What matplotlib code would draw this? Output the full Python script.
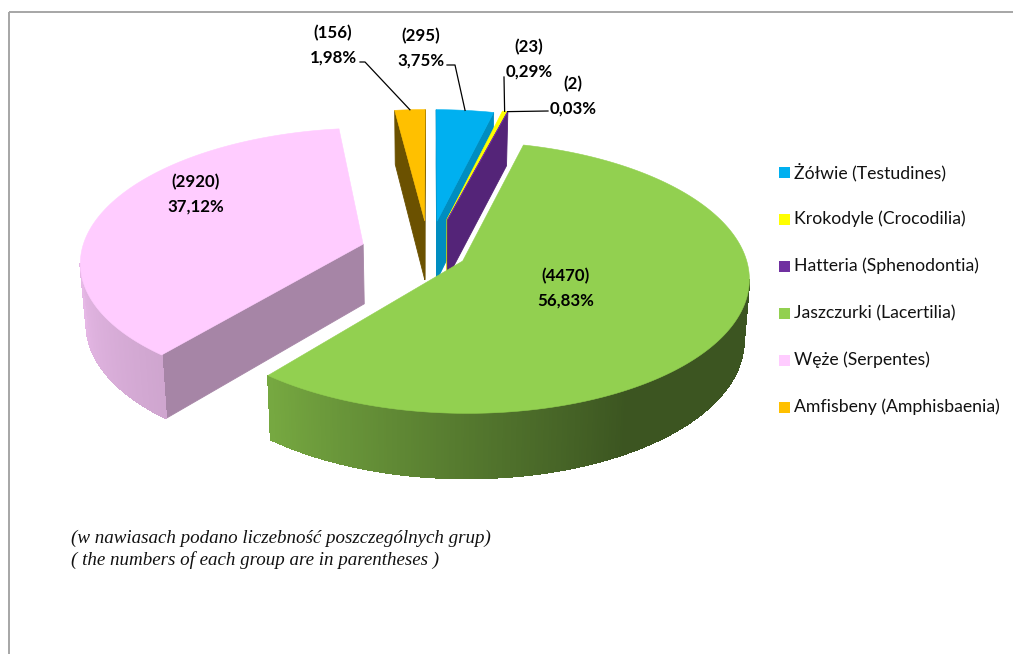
import numpy as np
import matplotlib
matplotlib.use("Agg")
import matplotlib.pyplot as plt
from matplotlib.patches import Rectangle

# Dane: liczebnosc grup
names = ['Żółwie (Testudines)', 'Krokodyle (Crocodilia)', 'Hatteria (Sphenodontia)',
         'Jaszczurki (Lacertilia)', 'Węże (Serpentes)', 'Amfisbeny (Amphisbaenia)']
counts = [295, 23, 2, 4470, 2920, 156]

colors = ['#00B0F0', '#FFFF00', '#7030A0', '#92D050', '#FFCCFF', '#FFC000']
face_shade = [0.80, 0.85, 0.75, 0.8, 0.65, 0.42]   # sciany promieniowe
explode = [0.25, 0.27, 0.27, 0.133, 0.245, 0.25]
draw_order = [5, 0, 1, 2, 4, 3]

# polozenie etykiet (piksele)
label_xy = [(421, 48), (529, 59), (573, 96), (566, 288), (196, 194), (333, 45)]
leader_elbows = [[(447, 65), (455, 65)], [(504, 77)], [(548, 111)], None, None, [(360, 62), (365, 62)]]

# parametry rzutu
X0, Y0 = 429, 253
RX, RY = 282, 132
P = 0.12
DEPTH = 60


def project(u, v, bottom=False):
    s = 1 / (1 - P * v)
    x = X0 + RX * u * s
    y = Y0 + RY * v * s
    if bottom:
        x = X0 + (x - X0) * 0.983
        y = y + DEPTH * (1 + 0.08 * v)
    return x, y


def disk_point(theta, r, mid, e):
    t, m = np.radians(theta), np.radians(mid)
    return r * np.sin(t) + e * np.sin(m), -r * np.cos(t) - e * np.cos(m)


def rim_shade(theta):
    return np.interp(theta, [90, 150, 180, 219, 270], [0.41, 0.41, 0.58, 0.81, 0.92])


def darker(color, f):
    return tuple(c * f for c in matplotlib.colors.to_rgb(color))


def side_quad(ax, a, b, color, aa=True):
    # sciana widoczna tylko gdy krawedz biegnie w lewo
    xa, ya = project(*a)
    xb, yb = project(*b)
    if xb >= xa:
        return
    xc, yc = project(*b, bottom=True)
    xd, yd = project(*a, bottom=True)
    ax.fill([xa, xb, xc, xd], [ya, yb, yc, yd], color=color, lw=0.6, antialiased=aa, zorder=2)


fig = plt.figure(figsize=(10.13, 6.54), dpi=100)
ax = fig.add_axes([0, 0, 1, 1])
ax.set_xlim(0, 1013)
ax.set_ylim(654, 0)
ax.axis('off')

# ramka
ax.add_patch(Rectangle((9, 12), 1100, 800, fill=False, edgecolor='#A6A6A6', lw=1.4, zorder=1))

total = sum(counts)
edges = np.cumsum([0] + counts) / total * 360

for i in draw_order:
    t1, t2 = edges[i], edges[i + 1]
    mid = (t1 + t2) / 2
    e = explode[i]
    thetas = np.linspace(t1, t2, max(2, int((t2 - t1) * 2) + 2))
    rim = [disk_point(t, 1, mid, e) for t in thetas]
    apex = disk_point(mid, 0, mid, e)

    # sciany promieniowe
    side_quad(ax, apex, rim[0], darker(colors[i], face_shade[i]))
    side_quad(ax, rim[-1], apex, darker(colors[i], face_shade[i]))
    # bok zewnetrzny
    for j in range(len(rim) - 1):
        tm = (thetas[j] + thetas[j + 1]) / 2
        side_quad(ax, rim[j], rim[j + 1], darker(colors[i], rim_shade(tm)), aa=False)

    # wierzch
    pts = [project(*apex)] + [project(*p) for p in rim]
    ax.fill([p[0] for p in pts], [p[1] for p in pts], color=colors[i], lw=0.4, zorder=2)

# etykiety i linie odniesienia
for i, n in enumerate(counts):
    pct = ('%.2f%%' % (n / total * 100)).replace('.', ',')
    ax.text(label_xy[i][0], label_xy[i][1], '(%d)\n%s' % (n, pct), ha='center', va='center',
            family='Lato', fontweight='bold', fontsize=12.2, linespacing=1.6, color='black', zorder=5)
    if leader_elbows[i] is not None:
        mid = (edges[i] + edges[i + 1]) / 2
        end = project(*disk_point(mid, 1, mid, explode[i]))
        line = leader_elbows[i] + [end]
        ax.plot([p[0] for p in line], [p[1] for p in line], color='black', lw=0.9, zorder=4)

# legenda
for i, name in enumerate(names):
    y = 172 + i * 47
    ax.add_patch(Rectangle((779, y - 5.5), 11, 11, facecolor=colors[i], edgecolor='none', zorder=3))
    ax.text(794, y, name, va='center', ha='left', family='Lato', fontsize=12.7, color='#111111', zorder=5)

# przypis
ax.text(71, 538, '(w nawiasach podano liczebność poszczególnych grup)', family='Liberation Serif',
        style='italic', fontsize=13.7, va='center', color='#111111')
ax.text(71, 560, '( the numbers of each group are in parentheses )', family='Liberation Serif',
        style='italic', fontsize=13.7, va='center', color='#111111')

fig.savefig('out.png', dpi=100)
